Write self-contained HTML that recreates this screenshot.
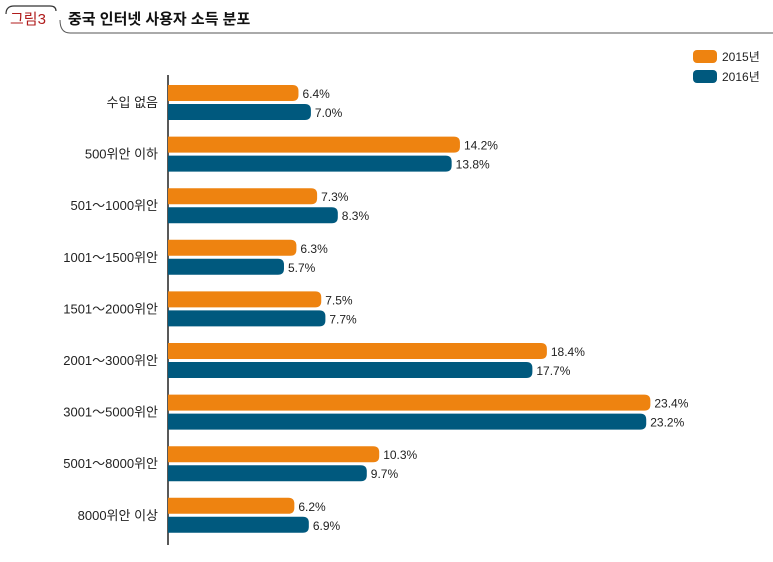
<!DOCTYPE html>
<html><head><meta charset="utf-8"><style>
body{margin:0;background:#fff;font-family:"Liberation Sans","Noto Sans CJK KR",sans-serif}
#wrap{position:relative;width:773px;height:562px;overflow:hidden}
</style></head><body>
<div id="wrap">
<svg id="svg" width="773" height="562">
  <path d="M6,14 Q6,6 14,6 L50,6 Q56,6 56,11" fill="none" stroke="#333" stroke-width="1.2"/>
  <text x="10" y="24" font-size="15" fill="#b01c1c">그림3</text>
  <path d="M60,20 Q60,33 70,33 L773,33" fill="none" stroke="#555" stroke-width="1"/>
  <text x="68" y="24" font-size="15" font-weight="bold" fill="#111">중국 인터넷 사용자 소득 분포</text>
  <line x1="168" y1="75" x2="168" y2="545" stroke="#222" stroke-width="1.5"/>
  <rect x="693" y="50" width="24" height="13" rx="4" fill="#EE8310"/>
  <text x="722" y="61" font-size="12" fill="#222">2015년</text>
  <rect x="693" y="70" width="24" height="13" rx="4" fill="#00597E"/>
  <text x="722" y="81" font-size="12" fill="#222">2016년</text>
  <g id="bars"></g>
</svg>
</div>
<script>
const categories=["수입 없음","500위안 이하","501～1000위안","1001～1500위안","1501～2000위안","2001～3000위안","3001～5000위안","5001～8000위안","8000위안 이상"];
const values2015=[6.4,14.2,7.3,6.3,7.5,18.4,23.4,10.3,6.2];
const values2016=[7.0,13.8,8.3,5.7,7.7,17.7,23.2,9.7,6.9];
const NS="http://www.w3.org/2000/svg";
const g=document.getElementById('bars');
function xScale(v){return 166+v*20.7;}
function yBand(i){return 85+i*51.6;}
function mk(tag,attrs){const e=document.createElementNS(NS,tag);for(const k in attrs)e.setAttribute(k,attrs[k]);g.appendChild(e);return e;}
function bar(v,y,color,name){
  const x1=xScale(v),r=6,h=16;
  const p=mk('path',{d:`M168,${y} L${x1-r},${y} Q${x1},${y} ${x1},${y+r} L${x1},${y+h-r} Q${x1},${y+h} ${x1-r},${y+h} L168,${y+h} Z`,fill:color});
  
  
  const t=mk('text',{x:x1+4,y:y+13,'font-size':12,fill:'#222'});
  t.textContent=v.toFixed(1)+'%';
  
  
}
categories.forEach((c,i)=>{
  const y=yBand(i);
  const t=mk('text',{x:158,y:y+22,'font-size':13,fill:'#222','text-anchor':'end'});
  t.textContent=c;
  
  
  bar(values2015[i],y,'#EE8310','bar-2015');
  bar(values2016[i],y+19,'#00597E','bar-2016');
});
</script>
</body></html>
